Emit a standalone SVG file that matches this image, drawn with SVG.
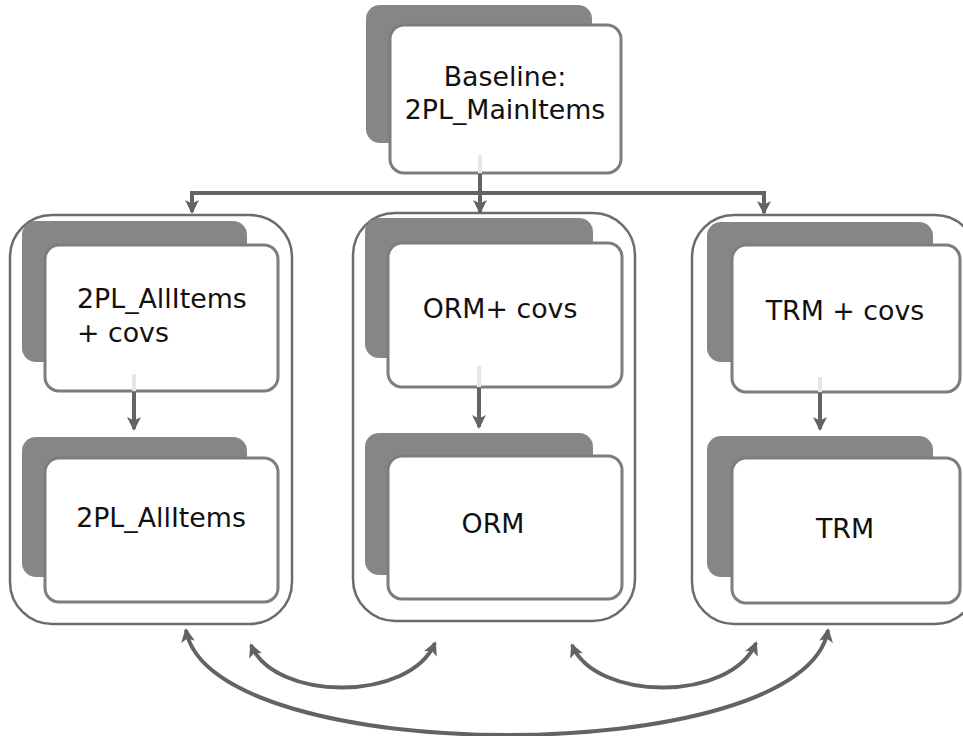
<svg xmlns="http://www.w3.org/2000/svg" width="963" height="736" viewBox="0 0 963 736">
<defs>
<style>
.shadow{fill:#868686;}
.card{fill:#ffffff;stroke:#7d7d7d;stroke-width:3;}
.group{fill:none;stroke:#6c6c6c;stroke-width:2.5;}
.lbl{font-family:"DejaVu Sans",Verdana,sans-serif;font-size:26.8px;fill:#111111;}
.conn{fill:none;stroke:#636363;stroke-width:4;}
.fade{stroke:#e6e6e6;stroke-width:4;}
</style>
<marker id="ah" viewBox="0 0 14 14" refX="12" refY="7" markerWidth="14" markerHeight="14" markerUnits="userSpaceOnUse" orient="auto-start-reverse">
<path d="M0,0 L14,7 L0,14 L3.5,7 Z" fill="#636363"/>
</marker>
</defs>
<rect width="963" height="736" fill="#ffffff"/>

<g id="group-2pl">
<rect class="group" x="10" y="215" width="282" height="409" rx="42"/>
</g>
<g id="group-orm">
<rect class="group" x="353" y="213" width="282" height="408" rx="42"/>
</g>
<g id="group-trm">
<rect class="group" x="692" y="215" width="285" height="409" rx="42"/>
</g>

<g id="baseline">
<rect class="shadow" x="366" y="5" width="226" height="138" rx="14"/>
<rect class="card" x="390" y="25" width="231" height="148" rx="14"/>
<text class="lbl" x="505" y="86" text-anchor="middle">Baseline:</text>
<text class="lbl" x="505" y="119" text-anchor="middle">2PL_MainItems</text>
</g>

<g id="n-2pl-allitems-covs">
<rect class="shadow" x="22" y="221" width="225" height="141" rx="14"/>
<rect class="card" x="45" y="245" width="233" height="146" rx="14"/>
<text class="lbl" x="77" y="308">2PL_AllItems</text>
<text class="lbl" x="77" y="342">+ covs</text>
</g>
<g id="n-2pl-allitems">
<rect class="shadow" x="22" y="437" width="225" height="140" rx="14"/>
<rect class="card" x="45" y="458" width="233" height="144" rx="14"/>
<text class="lbl" x="161" y="527" text-anchor="middle">2PL_AllItems</text>
</g>

<g id="n-orm-covs">
<rect class="shadow" x="365" y="218" width="228" height="140" rx="14"/>
<rect class="card" x="388" y="243" width="234" height="144" rx="14"/>
<text class="lbl" x="500" y="318" text-anchor="middle">ORM+ covs</text>
</g>
<g id="n-orm">
<rect class="shadow" x="365" y="433" width="228" height="142" rx="14"/>
<rect class="card" x="388" y="456" width="234" height="143" rx="14"/>
<text class="lbl" x="493" y="533" text-anchor="middle">ORM</text>
</g>

<g id="n-trm-covs">
<rect class="shadow" x="707" y="222" width="226" height="140" rx="14"/>
<rect class="card" x="732" y="245" width="228" height="147" rx="14"/>
<text class="lbl" x="845" y="320" text-anchor="middle">TRM + covs</text>
</g>
<g id="n-trm">
<rect class="shadow" x="707" y="436" width="226" height="141" rx="14"/>
<rect class="card" x="732" y="458" width="228" height="145" rx="14"/>
<text class="lbl" x="845" y="538" text-anchor="middle">TRM</text>
</g>

<g id="connectors">
<line class="fade" x1="480" y1="155" x2="480" y2="173"/>
<line class="fade" x1="134" y1="374" x2="134" y2="391"/>
<line class="fade" x1="479" y1="366" x2="479" y2="387"/>
<line class="fade" x1="820" y1="377" x2="820" y2="392"/>
<path class="conn" d="M480,174 V212" marker-end="url(#ah)"/>
<path class="conn" d="M480,193 H192 V212" marker-end="url(#ah)"/>
<path class="conn" d="M480,193 H764 V213" marker-end="url(#ah)"/>
<path class="conn" d="M134,392 V429" marker-end="url(#ah)"/>
<path class="conn" d="M479,388 V427" marker-end="url(#ah)"/>
<path class="conn" d="M820,393 V429" marker-end="url(#ah)"/>
<path class="conn" d="M186,630 C210,770 805,770 828,630" marker-start="url(#ah)" marker-end="url(#ah)"/>
<path class="conn" d="M251,645 C275,702 410,702 435,643" marker-start="url(#ah)" marker-end="url(#ah)"/>
<path class="conn" d="M572,645 C596,702 731,702 756,643" marker-start="url(#ah)" marker-end="url(#ah)"/>
</g>
</svg>
